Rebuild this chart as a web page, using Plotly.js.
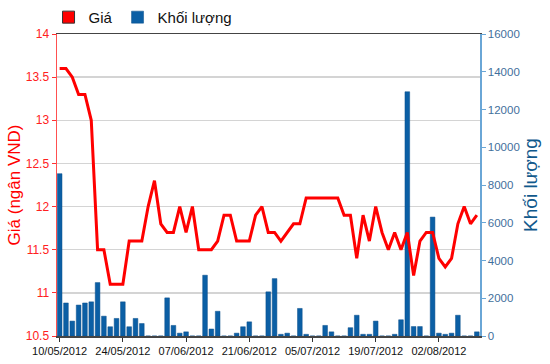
<!DOCTYPE html>
<html>
<head>
<meta charset="utf-8">
<script src="https://cdn.plot.ly/plotly-3.0.1.min.js"></script>
<style>html,body{margin:0;padding:0;background:#fff}#chart{width:550px;height:364px}</style>
</head>
<body>
<div id="chart"></div>
<script>
const dates = [
  "10/05/2012","11/05/2012","14/05/2012","15/05/2012","16/05/2012","17/05/2012","18/05/2012","21/05/2012","22/05/2012","23/05/2012",
  "24/05/2012","25/05/2012","28/05/2012","29/05/2012","30/05/2012","31/05/2012","01/06/2012","04/06/2012","05/06/2012","06/06/2012",
  "07/06/2012","08/06/2012","11/06/2012","12/06/2012","13/06/2012","14/06/2012","15/06/2012","18/06/2012","19/06/2012","20/06/2012",
  "21/06/2012","22/06/2012","25/06/2012","26/06/2012","27/06/2012","28/06/2012","29/06/2012","02/07/2012","03/07/2012","04/07/2012",
  "05/07/2012","06/07/2012","09/07/2012","10/07/2012","11/07/2012","12/07/2012","13/07/2012","16/07/2012","17/07/2012","18/07/2012",
  "19/07/2012","20/07/2012","23/07/2012","24/07/2012","25/07/2012","26/07/2012","27/07/2012","30/07/2012","31/07/2012","01/08/2012",
  "02/08/2012","03/08/2012","06/08/2012","07/08/2012","08/08/2012","09/08/2012","10/08/2012"
];
const price = [
  13.6,13.6,13.5,13.3,13.3,13.0,11.5,11.5,11.1,11.1,
  11.1,11.6,11.6,11.6,12.0,12.3,11.8,11.7,11.7,12.0,
  11.7,12.0,11.5,11.5,11.5,11.6,11.9,11.9,11.6,11.6,
  11.6,11.9,12.0,11.7,11.7,11.6,11.7,11.8,11.8,12.1,
  12.1,12.1,12.1,12.1,12.1,11.9,11.9,11.4,11.9,11.6,
  12.0,11.7,11.5,11.7,11.5,11.7,11.2,11.6,11.7,11.7,
  11.4,11.3,11.4,11.8,12.0,11.8,11.9
];
const volume = [
  8600,1750,790,1640,1750,1810,2830,1050,490,930,
  1810,490,930,660,0,0,0,2020,560,150,
  220,0,0,3220,370,1310,0,0,150,490,
  750,0,0,2340,3040,90,150,0,1460,90,
  0,0,560,220,0,0,440,1100,90,90,
  790,0,0,90,860,12940,500,500,0,6300,
  150,90,150,1100,0,0,220
];
const tickLabels = ["10/05/2012","24/05/2012","07/06/2012","21/06/2012","05/07/2012","19/07/2012","02/08/2012"];
const priceName = "Giá";
const volumeName = "Khối lượng";
const priceTitle = "Giá (ngân VND)";

const traces = [
  {type:'bar', x:dates, y:volume, yaxis:'y', name:volumeName, legendrank:2,
   marker:{color:'#0b5fa5', line:{color:'#0a4f8a', width:0.5}}},
  {type:'scatter', mode:'lines', x:dates, y:price, yaxis:'y2', name:priceName, showlegend:false,
   line:{color:'#ff0000', width:3}},
  {type:'bar', x:[null], y:[null], yaxis:'y2', name:priceName, legendrank:1,
   marker:{color:'#ff0000', line:{color:'#333', width:1}}}
];

const tickFam = 'Liberation Sans, Arial, sans-serif';

const layout = {
  width:550, height:364,
  margin:{l:57, r:70, t:34, b:28, autoexpand:false},
  paper_bgcolor:'#fff', plot_bgcolor:'#fff',
  font:{family:'Liberation Sans, Arial, sans-serif'},
  bargap:0.26,
  showlegend:true,
  legend:{orientation:'h', x:-0.02, xanchor:'left', y:1.055, yanchor:'middle',
          font:{family:'Liberation Sans, Arial, sans-serif', size:15, color:'#111'},
          bgcolor:'rgba(0,0,0,0)', itemwidth:30},
  xaxis:{type:'category', range:[-0.42, 66.5], tickmode:'array', tickvals:tickLabels, ticktext:tickLabels,
         showgrid:false, showline:true, linecolor:'#444', linewidth:1.5, mirror:true,
         ticks:'outside', ticklen:4, tickcolor:'#333', tickfont:{family:tickFam, size:11, color:'#111'}, zeroline:false},
  yaxis:{side:'right', range:[0,16000], dtick:2000, tickformat:'d', showgrid:false, zeroline:false,
         showline:true, linecolor:'#6aa6d6', linewidth:1.5, ticks:'outside', ticklen:4, tickcolor:'#6aa6d6',
         tickfont:{family:tickFam, size:11.5, color:'#3f6f9c'},
         title:{text:volumeName, font:{size:19, color:'#11598c'}, standoff:4}},
  yaxis2:{overlaying:'y', side:'left', range:[10.5,14], dtick:0.5, showgrid:true, gridcolor:'#d4d4d4', gridwidth:1.5,
          zeroline:false, showline:true, linecolor:'#ff5050', linewidth:1.5, ticks:'outside', ticklen:4, tickcolor:'#ff3030',
          tickfont:{family:tickFam, size:12, color:'#ff2020'},
          title:{text:priceTitle, font:{size:17, color:'#ff0000'}, standoff:1}}
};

Plotly.newPlot('chart', traces, layout, {displayModeBar:false, staticPlot:true});
</script>
</body>
</html>
